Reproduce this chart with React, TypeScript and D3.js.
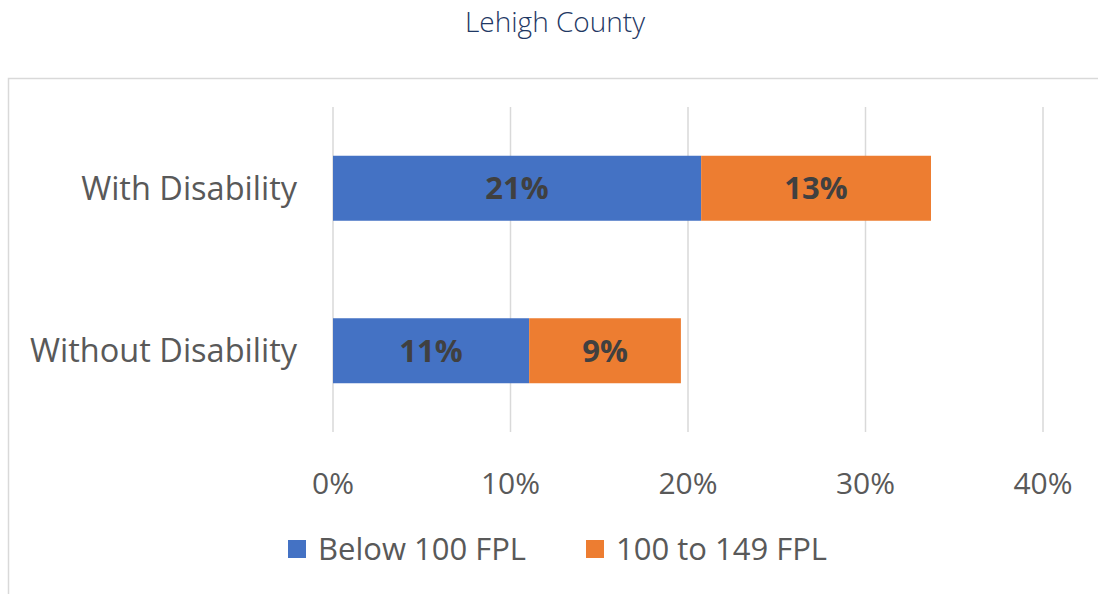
import React from 'react';
import * as d3 from 'd3';

const categories = ['With Disability', 'Without Disability'];
const seriesNames = ['Below 100 FPL', '100 to 149 FPL'];
const below100 = [0.2074, 0.1105];
const from100to149 = [0.1295, 0.0855];
const tickValues = [0, 0.1, 0.2, 0.3, 0.4];
const colors = ['#4472C4', '#ED7D31'];

const W = 1098;
const H = 594;
const font = '"Open Sans", "DejaVu Sans", sans-serif';

const App = () => {
  const rows = categories.map((c, i) => ({
    cat: c,
    [seriesNames[0]]: below100[i],
    [seriesNames[1]]: from100to149[i],
  }));
  const stacked = d3.stack<any>().keys(seriesNames)(rows);

  const x = d3.scaleLinear().domain([0, 0.4]).range([333, 1043]);
  const y = d3.scaleBand()
    .domain(categories)
    .range([107, 432])
    .paddingInner(0.6)
    .paddingOuter(0.3);

  const pct = d3.format('.0%');

  // legend positions
  const legendX = [288, 586];

  return (
    <svg width={W} height={H} style={{position: 'absolute', left: 0, top: 0}}>
      <rect x={0} y={0} width={W} height={H} fill="#fff" />
      {/* chart frame */}
      <rect x={8.5} y={78.5} width={W + 20} height={H + 20} fill="none" stroke="#d9d9d9" strokeWidth={1.5} />
      <text x={555} y={22} textAnchor="middle" dy="0.35em" fontFamily={font} fontWeight={300}
        fontSize={28} fill="#1F3864">Lehigh County</text>

      {/* gridlines */}
      {tickValues.map(t => (
        <line key={t} x1={x(t)} x2={x(t)} y1={107} y2={432} stroke="#d9d9d9" strokeWidth={1.5} />
      ))}

      {/* bars */}
      {stacked.map((s, si) => (
        <g key={s.key} fill={colors[si]}>
          {s.map((d: any, i) => (
            <rect key={i} x={x(d[0])} y={y(d.data.cat)} width={x(d[1]) - x(d[0])} height={y.bandwidth()} />
          ))}
        </g>
      ))}

      {/* data labels */}
      {stacked.map((s, si) => (
        <g key={'l' + s.key}>
          {s.map((d: any, i) => (
            <text key={i} x={(x(d[0]) + x(d[1])) / 2} y={(y(d.data.cat) as number) + y.bandwidth() / 2}
              dy="0.35em" textAnchor="middle" fontFamily={font} fontWeight={700} fontSize={31} fill="#404040">
              {pct(d[1] - d[0])}
            </text>
          ))}
        </g>
      ))}

      {/* category labels */}
      {categories.map(c => (
        <text key={c} x={297} y={(y(c) as number) + y.bandwidth() / 2} dy="0.35em" textAnchor="end"
          fontFamily={font} fontSize={32.5} fill="#595959">{c}</text>
      ))}

      {/* x tick labels */}
      {tickValues.map(t => (
        <text key={'t' + t} x={x(t)} y={483} dy="0.35em" textAnchor="middle" fontFamily={font}
          fontSize={30} fill="#595959">{pct(t)}</text>
      ))}

      {/* legend */}
      {seriesNames.map((n, i) => (
        <g key={n} transform={`translate(${legendX[i]},549)`}>
          <rect x={0} y={-9} width={18} height={18} fill={colors[i]} />
          <text x={30} y={0} dy="0.35em" fontFamily={font} fontSize={31} fill="#595959">{n}</text>
        </g>
      ))}
    </svg>
  );
};

export default App;
